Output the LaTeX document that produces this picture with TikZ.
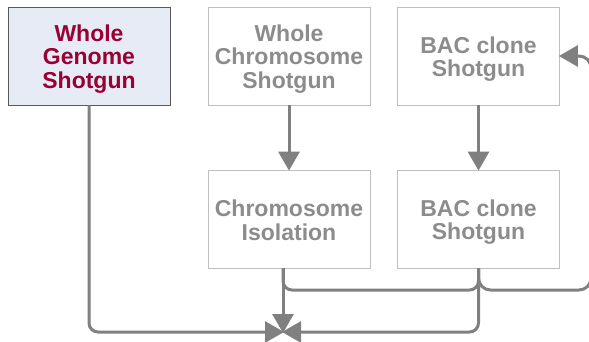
\documentclass[tikz,border=0pt]{standalone}
\usepackage{fontspec}
\setmainfont{Liberation Sans}
\usetikzlibrary{arrows.meta}
\definecolor{boxred}{HTML}{990033}
\definecolor{boxfill}{HTML}{E6EBF5}
\definecolor{boxedge}{HTML}{595959}
\definecolor{greytext}{HTML}{8C8C8C}
\definecolor{greyedge}{HTML}{BFBFBF}
\definecolor{linegrey}{HTML}{808080}
\tikzset{
  stagebox/.style={draw=greyedge, line width=0.8pt, minimum width=162pt, minimum height=98pt,
    inner sep=0pt},
  activebox/.style={stagebox, draw=boxedge, fill=boxfill},
  stagetext/.style={inner sep=0pt, align=center, text=greytext,
    font=\bfseries\fontsize{23}{23.5}\selectfont},
  activetext/.style={stagetext, text=boxred},
  conn/.style={draw=linegrey, line width=3pt, rounded corners=9pt},
  arr/.style={conn, -{Triangle[length=19pt,width=21pt]}, shorten >=-1pt},
}
\begin{document}
\begin{tikzpicture}[x=1pt,y=-1pt]
\useasboundingbox (0,0) rectangle (589,341);
\node[activebox] (wgs) at (89,56) {};
\node[stagebox] (wcs) at (289,56) {};
\node[stagebox] (bac1) at (478.5,56) {};
\node[stagebox] (ci) at (289,219) {};
\node[stagebox] (bac2) at (478.5,219) {};
\node[activetext] (wgs-t) at ([yshift=-3pt]wgs.center) {Whole\\Genome\\Shotgun};
\node[stagetext] (wcs-t) at ([yshift=-3pt]wcs.center) {Whole\\Chromosome\\Shotgun};
\node[stagetext] (bac1-t) at ([yshift=-3pt]bac1.center) {BAC clone\\Shotgun};
\node[stagetext] (ci-t) at ([yshift=-1.5pt]ci.center) {Chromosome\\Isolation};
\node[stagetext] (bac2-t) at ([yshift=-3pt]bac2.center) {BAC clone\\Shotgun};
\coordinate (M) at (283,332);
\coordinate (j1) at (283,290);
\coordinate (j2) at (478.5,290);
\coordinate (r1) at (591,290);
\coordinate (r2) at (591,56);
% branches to the loop
\draw[conn] (ci.south -| M) -- (j1) -- (j2) -- (bac2.south);
\draw[arr, rounded corners=12pt] (bac2.south) -- (j2) -- (r1) -- (r2) -- (bac1.east);
% vertical arrows
\draw[arr] (wcs) -- (ci);
\draw[arr] (bac1) -- (bac2);
% convergence
\draw[arr] (wgs.south) |- (M);
\draw[arr] (ci.south -| M) -- (M);
\draw[arr] (bac2.south) |- (M);
\end{tikzpicture}
\end{document}
